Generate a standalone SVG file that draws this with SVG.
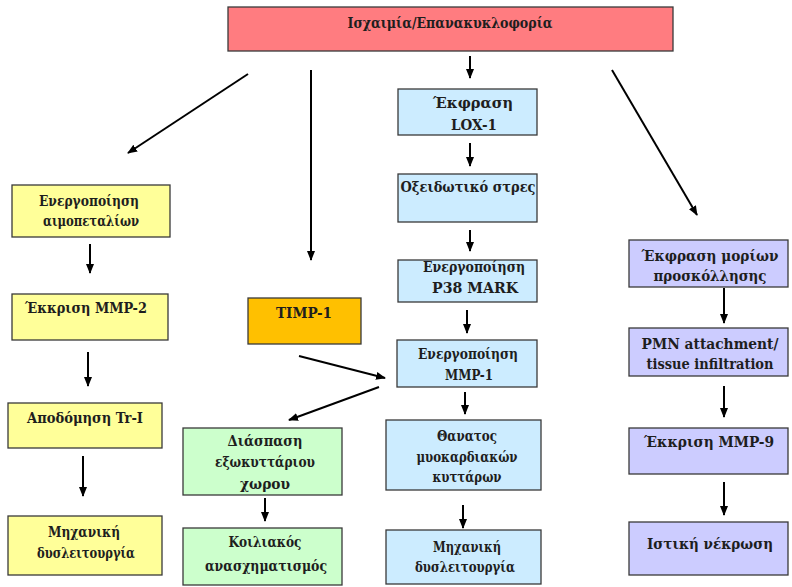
<svg xmlns="http://www.w3.org/2000/svg" width="792" height="587" viewBox="0 0 792 587">
  <style>
    .box { stroke: #3a3a3a; stroke-width: 1.3; }
    .top { fill: #FF7C80; }
    .yel { fill: #FFFF99; }
    .org { fill: #FFC000; }
    .blu { fill: #CCECFF; }
    .grn { fill: #CCFFCC; }
    .pur { fill: #CCCCFF; }
    .arr { stroke: #000; stroke-width: 2; fill: none; marker-end: url(#ah); }
  </style>
  <defs>
    <marker id="ah" markerUnits="userSpaceOnUse" markerWidth="10" markerHeight="10" viewBox="0 0 10 10" refX="9" refY="5" orient="auto">
      <path d="M0,1 L10,5 L0,9 Z" fill="#000"/>
    </marker>
  </defs>
  <rect width="792" height="587" fill="#fff"/>

  <!-- connectors -->
  <g id="connectors">
    <line class="arr" x1="248" y1="74" x2="128" y2="153"/>
    <line class="arr" x1="311" y1="70" x2="311" y2="260"/>
    <line class="arr" x1="470" y1="56" x2="470" y2="78"/>
    <line class="arr" x1="612" y1="70" x2="697" y2="215"/>

    <line class="arr" x1="90" y1="244" x2="90" y2="273"/>
    <line class="arr" x1="88" y1="352" x2="88" y2="386"/>
    <line class="arr" x1="83" y1="456" x2="83" y2="496"/>

    <line class="arr" x1="470" y1="143" x2="470" y2="166"/>
    <line class="arr" x1="470" y1="230" x2="470" y2="251"/>
    <line class="arr" x1="467" y1="310" x2="467" y2="333"/>
    <line class="arr" x1="465" y1="392" x2="465" y2="414"/>
    <line class="arr" x1="463" y1="505" x2="463" y2="528"/>

    <line class="arr" x1="299" y1="356" x2="385" y2="378"/>
    <line class="arr" x1="379" y1="387" x2="289" y2="420"/>
    <line class="arr" x1="265" y1="498" x2="265" y2="521"/>

    <line class="arr" x1="724" y1="288" x2="724" y2="323"/>
    <line class="arr" x1="724" y1="386" x2="724" y2="417"/>
    <line class="arr" x1="724" y1="482" x2="724" y2="515"/>
  </g>

  <!-- every label is fitted to its measured width -->
  <g font-family="DejaVu Serif, serif" font-weight="bold" font-size="14" fill="#1e1e1e" text-anchor="middle">
  <g id="n-ischemia">
    <rect class="box top" x="228" y="7" width="445" height="44"/>
    <text x="450" y="28" textLength="205" lengthAdjust="spacingAndGlyphs">Ισχαιμία/Επανακυκλοφορία</text>
  </g>

  <!-- left column -->
  <g id="n-platelets">
    <rect class="box yel" x="12" y="185" width="158" height="52"/>
    <text x="89" y="206" textLength="100" lengthAdjust="spacingAndGlyphs">Ενεργοποίηση</text>
    <text x="91" y="226" textLength="96" lengthAdjust="spacingAndGlyphs">αιμοπεταλίων</text>
  </g>
  <g id="n-mmp2">
    <rect class="box yel" x="12" y="294" width="156" height="46"/>
    <text x="86" y="313" textLength="122" lengthAdjust="spacingAndGlyphs">Έκκριση MMP-2</text>
  </g>
  <g id="n-tri">
    <rect class="box yel" x="8" y="403" width="154" height="45"/>
    <text x="85" y="423" textLength="116" lengthAdjust="spacingAndGlyphs">Αποδόμηση Tr-I</text>
  </g>
  <g id="n-dysfunction-left">
    <rect class="box yel" x="8" y="516" width="154" height="59"/>
    <text x="84" y="537" textLength="72" lengthAdjust="spacingAndGlyphs">Μηχανική</text>
    <text x="86" y="558" textLength="98" lengthAdjust="spacingAndGlyphs">δυσλειτουργία</text>
  </g>

  <g id="n-timp1">
    <rect class="box org" x="248" y="298" width="113" height="46"/>
    <text x="304" y="318" textLength="56" lengthAdjust="spacingAndGlyphs">TIMP-1</text>
  </g>

  <!-- centre column -->
  <g id="n-lox1">
    <rect class="box blu" x="398" y="89" width="139" height="46"/>
    <text x="473" y="108" textLength="80" lengthAdjust="spacingAndGlyphs">Έκφραση</text>
    <text x="474" y="130" textLength="46" lengthAdjust="spacingAndGlyphs">LOX-1</text>
  </g>
  <g id="n-oxstress">
    <rect class="box blu" x="398" y="174" width="139" height="48"/>
    <text x="468" y="192" textLength="135" lengthAdjust="spacingAndGlyphs">Οξειδωτικό στρες</text>
  </g>
  <g id="n-p38">
    <rect class="box blu" x="398" y="260" width="139" height="42"/>
    <text x="474" y="272" textLength="102" lengthAdjust="spacingAndGlyphs">Ενεργοποίηση</text>
    <text x="475" y="293" textLength="86" lengthAdjust="spacingAndGlyphs">P38 MARK</text>
  </g>
  <g id="n-mmp1">
    <rect class="box blu" x="397" y="340" width="140" height="47"/>
    <text x="468" y="359" textLength="100" lengthAdjust="spacingAndGlyphs">Ενεργοποίηση</text>
    <text x="469" y="380" textLength="48" lengthAdjust="spacingAndGlyphs">MMP-1</text>
  </g>
  <g id="n-death">
    <rect class="box blu" x="386" y="420" width="155" height="70"/>
    <text x="467" y="441" textLength="60" lengthAdjust="spacingAndGlyphs">Θανατος</text>
    <text x="467" y="462" textLength="101" lengthAdjust="spacingAndGlyphs">μυοκαρδιακών</text>
    <text x="467" y="482" textLength="69" lengthAdjust="spacingAndGlyphs">κυττάρων</text>
  </g>
  <g id="n-dysfunction-centre">
    <rect class="box blu" x="386" y="530" width="155" height="54"/>
    <text x="467" y="552" textLength="68" lengthAdjust="spacingAndGlyphs">Μηχανική</text>
    <text x="465" y="572" textLength="100" lengthAdjust="spacingAndGlyphs">δυσλειτουργία</text>
  </g>

  <!-- green branch -->
  <g id="n-ecm">
    <rect class="box grn" x="183" y="428" width="159" height="67"/>
    <text x="265" y="446" textLength="75" lengthAdjust="spacingAndGlyphs">Διάσπαση</text>
    <text x="265" y="467" textLength="100" lengthAdjust="spacingAndGlyphs">εξωκυττάριου</text>
    <text x="265" y="489" textLength="50" lengthAdjust="spacingAndGlyphs">χωρου</text>
  </g>
  <g id="n-remodeling">
    <rect class="box grn" x="183" y="528" width="159" height="57"/>
    <text x="265" y="547" textLength="73" lengthAdjust="spacingAndGlyphs">Κοιλιακός</text>
    <text x="266" y="571" textLength="122" lengthAdjust="spacingAndGlyphs">ανασχηματισμός</text>
  </g>

  <!-- right column -->
  <g id="n-adhesion">
    <rect class="box pur" x="629" y="240" width="159" height="47"/>
    <text x="710" y="261" textLength="137" lengthAdjust="spacingAndGlyphs">Έκφραση μορίων</text>
    <text x="710" y="281" textLength="113" lengthAdjust="spacingAndGlyphs">προσκόλλησης</text>
  </g>
  <g id="n-pmn">
    <rect class="box pur" x="629" y="328" width="159" height="48"/>
    <text x="710" y="349" textLength="137" lengthAdjust="spacingAndGlyphs">PMN attachment/</text>
    <text x="710" y="369" textLength="127" lengthAdjust="spacingAndGlyphs">tissue infiltration</text>
  </g>
  <g id="n-mmp9">
    <rect class="box pur" x="629" y="428" width="159" height="46"/>
    <text x="709" y="447" textLength="130" lengthAdjust="spacingAndGlyphs">Έκκριση MMP-9</text>
  </g>
  <g id="n-necrosis">
    <rect class="box pur" x="629" y="522" width="159" height="53"/>
    <text x="710" y="549" textLength="126" lengthAdjust="spacingAndGlyphs">Ιστική νέκρωση</text>
  </g>
  </g>
</svg>
